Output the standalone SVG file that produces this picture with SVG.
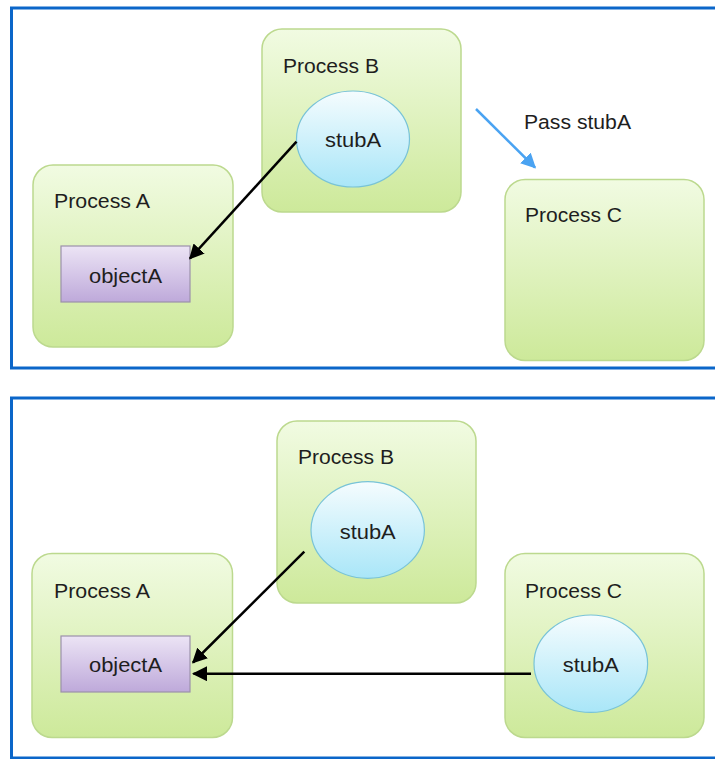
<svg xmlns="http://www.w3.org/2000/svg" width="715" height="759" viewBox="0 0 715 759">
  <style>
    .frame { fill: #ffffff; stroke: #0b66c9; stroke-width: 3; }
    .proc { fill: url(#gProc); stroke: #bcd98e; stroke-width: 1.5; }
    .obj { fill: url(#gObj); stroke: #9c91ab; stroke-width: 1.2; }
    .stub { fill: url(#gStub); stroke: #78c3d8; stroke-width: 1.2; }
    .lbl { font-family: "Liberation Sans", Arial, Helvetica, sans-serif; font-size: 20.5px; fill: #1e1e1e; }
    .mid { text-anchor: middle; }
    .ref { fill: none; stroke: #000000; stroke-width: 2.5; marker-end: url(#ahBlack); }
    .pass { fill: none; stroke: #4aa3f2; stroke-width: 2.5; marker-end: url(#ahBlue); }
  </style>
  <defs>
    <linearGradient id="gProc" x1="0" y1="0" x2="0" y2="1">
      <stop offset="0" stop-color="#f1fbe2"/>
      <stop offset="1" stop-color="#cde99a"/>
    </linearGradient>
    <linearGradient id="gObj" x1="0" y1="0" x2="0" y2="1">
      <stop offset="0" stop-color="#ece4f5"/>
      <stop offset="1" stop-color="#bea9da"/>
    </linearGradient>
    <linearGradient id="gStub" x1="0" y1="0" x2="0" y2="1">
      <stop offset="0" stop-color="#f5fcfe"/>
      <stop offset="1" stop-color="#a9e6f8"/>
    </linearGradient>
    <marker id="ahBlack" viewBox="0 0 10 10" refX="9" refY="5" markerWidth="6" markerHeight="6" orient="auto" markerUnits="strokeWidth">
      <path d="M0,0 L10,5 L0,10 Z" fill="#000000"/>
    </marker>
    <marker id="ahBlue" viewBox="0 0 10 10" refX="9" refY="5" markerWidth="6" markerHeight="6" orient="auto" markerUnits="strokeWidth">
      <path d="M0,0 L10,5 L0,10 Z" fill="#4aa3f2"/>
    </marker>
  </defs>

  <!-- upper frame: stub handed from B to C -->
  <rect class="frame" x="11.5" y="8" width="710" height="360"/>

  <g id="top-process-a">
    <rect class="proc" x="33" y="165" width="200" height="182" rx="20" ry="20"/>
    <text class="lbl" x="54" y="208" textLength="96" lengthAdjust="spacingAndGlyphs">Process A</text>
  </g>
  <g id="top-object-a">
    <rect class="obj" x="61" y="246" width="129" height="56"/>
    <text class="lbl mid" x="125.5" y="283" textLength="73" lengthAdjust="spacingAndGlyphs">objectA</text>
  </g>
  <g id="top-process-b">
    <rect class="proc" x="262" y="29" width="199" height="183" rx="20" ry="20"/>
    <text class="lbl" x="283" y="73" textLength="96" lengthAdjust="spacingAndGlyphs">Process B</text>
  </g>
  <g id="top-stub-b">
    <ellipse class="stub" cx="353" cy="139" rx="56.5" ry="48"/>
    <text class="lbl mid" x="353" y="147" textLength="56" lengthAdjust="spacingAndGlyphs">stubA</text>
  </g>
  <g id="top-process-c">
    <rect class="proc" x="505" y="179.5" width="199" height="181" rx="20" ry="20"/>
    <text class="lbl" x="525" y="222" textLength="97" lengthAdjust="spacingAndGlyphs">Process C</text>
  </g>
  <g id="top-pass-label">
    <text class="lbl" x="524" y="129" textLength="107" lengthAdjust="spacingAndGlyphs">Pass stubA</text>
  </g>

  <!-- lower frame: both stubs point at objectA -->
  <rect class="frame" x="11.5" y="398" width="710" height="360"/>

  <g id="bottom-process-a">
    <rect class="proc" x="32" y="553.5" width="200.5" height="184" rx="20" ry="20"/>
    <text class="lbl" x="54" y="597.5" textLength="96" lengthAdjust="spacingAndGlyphs">Process A</text>
  </g>
  <g id="bottom-object-a">
    <rect class="obj" x="61" y="636" width="129" height="56"/>
    <text class="lbl mid" x="125.5" y="672" textLength="73" lengthAdjust="spacingAndGlyphs">objectA</text>
  </g>
  <g id="bottom-process-b">
    <rect class="proc" x="277" y="421" width="199" height="182" rx="20" ry="20"/>
    <text class="lbl" x="298" y="464" textLength="96" lengthAdjust="spacingAndGlyphs">Process B</text>
  </g>
  <g id="bottom-stub-b">
    <ellipse class="stub" cx="367.7" cy="530" rx="56.7" ry="48.3"/>
    <text class="lbl mid" x="367.7" y="538.5" textLength="56" lengthAdjust="spacingAndGlyphs">stubA</text>
  </g>
  <g id="bottom-process-c">
    <rect class="proc" x="505" y="553.5" width="199" height="184" rx="20" ry="20"/>
    <text class="lbl" x="525" y="597.5" textLength="97" lengthAdjust="spacingAndGlyphs">Process C</text>
  </g>
  <g id="bottom-stub-c">
    <ellipse class="stub" cx="590.8" cy="663.7" rx="56.8" ry="48.7"/>
    <text class="lbl mid" x="590.8" y="672" textLength="56" lengthAdjust="spacingAndGlyphs">stubA</text>
  </g>

  <g id="connectors">
    <line class="ref" x1="296.5" y1="141.7" x2="190" y2="258.5"/>
    <line class="pass" x1="476" y1="109" x2="535" y2="167.5"/>
    <line class="ref" x1="304.3" y1="551.7" x2="193" y2="662.5"/>
    <line class="ref" x1="531" y1="673.7" x2="193.5" y2="673.7"/>
  </g>
</svg>
